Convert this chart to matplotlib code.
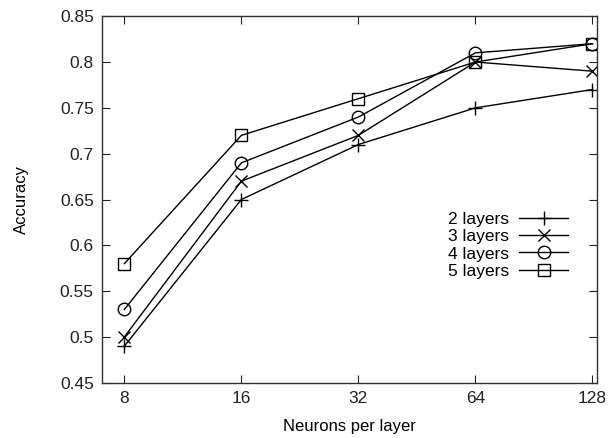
import numpy as np
import matplotlib.pyplot as plt
from matplotlib.ticker import FixedLocator, FixedFormatter, MultipleLocator, FormatStrFormatter

plt.rcParams['font.family'] = ['Liberation Sans', 'DejaVu Sans']

# Data
neurons = [8, 16, 32, 64, 128]
acc_2 = [0.49, 0.65, 0.71, 0.75, 0.77]
acc_3 = [0.50, 0.67, 0.72, 0.80, 0.79]
acc_4 = [0.53, 0.69, 0.74, 0.81, 0.82]
acc_5 = [0.58, 0.72, 0.76, 0.80, 0.82]

figure = plt.figure(figsize=(6.15, 4.38), dpi=100)
axis = figure.add_axes([0.166, 0.126, 0.805, 0.837])

style = dict(color='black', linewidth=1.0, markerfacecolor='none',
             markeredgecolor='black', markeredgewidth=1.0)
axis.plot(neurons, acc_2, marker='+', markersize=10, label='2 layers', **style)
axis.plot(neurons, acc_3, marker='x', markersize=9, label='3 layers', **style)
axis.plot(neurons, acc_4, marker='o', markersize=9, label='4 layers', **style)
axis.plot(neurons, acc_5, marker='s', markersize=9, label='5 layers', **style)

axis.set_xscale('log', base=2)
axis.set_xlim(8 * 2 ** -0.19, 128 * 2 ** 0.04)
axis.xaxis.set_major_locator(FixedLocator(neurons))
axis.xaxis.set_major_formatter(FixedFormatter([str(n) for n in neurons]))
axis.xaxis.set_minor_locator(FixedLocator([]))

axis.set_ylim(0.45, 0.85)
axis.yaxis.set_major_locator(MultipleLocator(0.05))
axis.yaxis.set_major_formatter(FormatStrFormatter('%g'))

axis.tick_params(direction='in', top=True, right=True, length=6, width=0.8,
                 labelsize=12.5, pad=6, colors='#222222')
for sp in axis.spines.values():
    sp.set_linewidth(1.0)
    sp.set_color('#333333')

axis.set_xlabel('Neurons per layer', fontsize=12, labelpad=9)
axis.set_ylabel('Accuracy', fontsize=12, labelpad=22)

axis.legend(loc='center right', bbox_to_anchor=(0.955, 0.375), frameon=False,
            markerfirst=False, fontsize=12.5, handlelength=2.8,
            labelspacing=0.12, handletextpad=0.6, borderaxespad=0)

figure.savefig('out.png', dpi=100)
